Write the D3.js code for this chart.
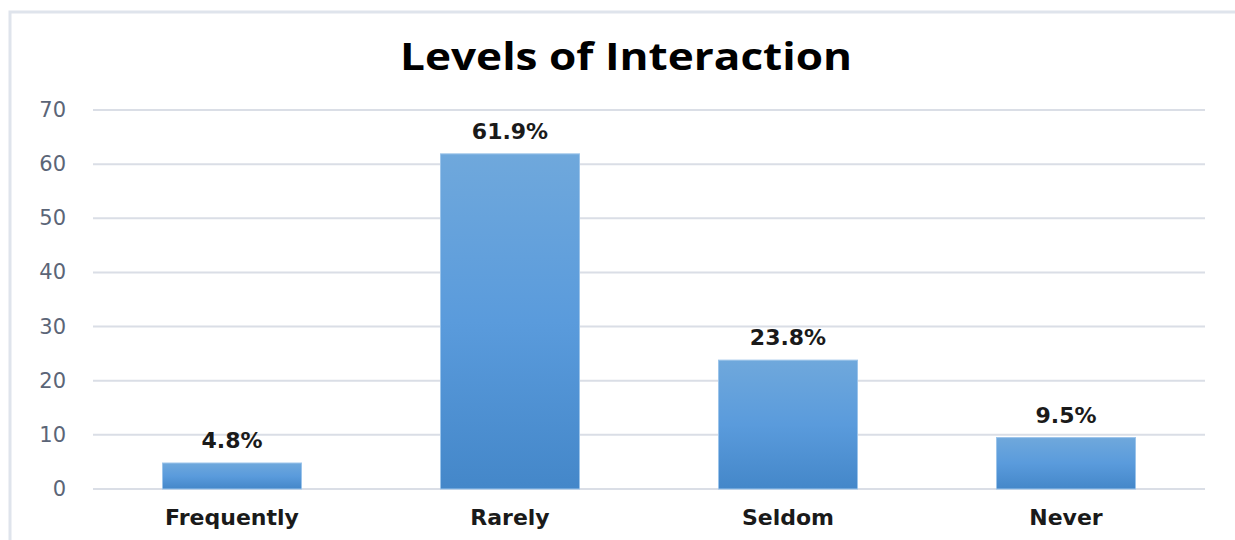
<!DOCTYPE html>
<html>
<head>
<meta charset="utf-8">
<script src="https://cdn.jsdelivr.net/npm/d3@7"></script>
<style>
  body { margin: 0; background: #fff; }
  svg { display: block; }
</style>
</head>
<body>
<svg id="chart"></svg>
<script>
const categories = ['Frequently', 'Rarely', 'Seldom', 'Never'];
const values = [4.8, 61.9, 23.8, 9.5];
const labels = ['4.8%', '61.9%', '23.8%', '9.5%'];
const yTicks = [0, 10, 20, 30, 40, 50, 60, 70];

const width = 1235;
const height = 540;
const plotLeft = 93, plotRight = 1205, plotTop = 110, plotBottom = 489;

const svg = d3.select('#chart')
    .attr('width', width)
    .attr('height', height);

// chart frame (only top/left edge visible in the crop)
svg.append('path')
    .attr('d', `M10,${height} L10,12 L${width},12`)
    .attr('fill', 'none')
    .attr('stroke', '#dfe4ec')
    .attr('stroke-width', 3);

const x = d3.scaleBand().domain(categories).range([plotLeft, plotRight])
    .paddingInner(0.5).paddingOuter(0.25);
const y = d3.scaleLinear().domain([0, 70]).range([plotBottom, plotTop]);

const defs = svg.append('defs');
const grad = defs.append('linearGradient')
    .attr('id', 'barGrad')
    .attr('x1', 0).attr('y1', 0).attr('x2', 0).attr('y2', 1);
grad.append('stop').attr('offset', '0%').attr('stop-color', '#6fa8dc');
grad.append('stop').attr('offset', '50%').attr('stop-color', '#5a9bdc');
grad.append('stop').attr('offset', '100%').attr('stop-color', '#4487c9');

// gridlines
svg.append('g')
    .selectAll('line')
    .data(yTicks)
    .enter().append('line')
    .attr('x1', plotLeft).attr('x2', plotRight)
    .attr('y1', d => y(d)).attr('y2', d => y(d))
    .attr('stroke', '#dadee6')
    .attr('stroke-width', 2);

// y axis labels
svg.append('g')
    .selectAll('text')
    .data(yTicks)
    .enter().append('text')
    .attr('x', 66)
    .attr('y', d => y(d) + 7)
    .attr('text-anchor', 'end')
    .attr('font-family', 'Verdana, "DejaVu Sans", sans-serif')
    .attr('font-size', 21)
    .attr('fill', '#5b6577')
    .text(d => d);

// bars
const rows = categories.map((c, i) => ({ cat: c, value: values[i], label: labels[i] }));

svg.append('g')
    .selectAll('rect')
    .data(rows)
    .enter().append('rect')
    .attr('x', d => x(d.cat))
    .attr('y', d => y(d.value))
    .attr('width', x.bandwidth())
    .attr('height', d => y(0) - y(d.value))
    .attr('fill', 'url(#barGrad)')
    .attr('stroke', '#9cc4ea')
    .attr('stroke-width', 1);

// value labels
svg.append('g')
    .selectAll('text')
    .data(rows)
    .enter().append('text')
    .attr('x', d => x(d.cat) + x.bandwidth() / 2)
    .attr('y', d => y(d.value) - 15)
    .attr('text-anchor', 'middle')
    .attr('font-family', 'Verdana, "DejaVu Sans", sans-serif')
    .attr('font-weight', 'bold')
    .attr('font-size', 22)
    .attr('fill', '#1a1a1a')
    .text(d => d.label);

// category labels
svg.append('g')
    .selectAll('text')
    .data(rows)
    .enter().append('text')
    .attr('x', d => x(d.cat) + x.bandwidth() / 2)
    .attr('y', 525)
    .attr('text-anchor', 'middle')
    .attr('font-family', 'Verdana, "DejaVu Sans", sans-serif')
    .attr('font-weight', 'bold')
    .attr('font-size', 22)
    .attr('fill', '#1a1a1a')
    .text(d => d.cat);

// title
svg.append('text')
    .attr('x', 626)
    .attr('y', 70)
    .attr('text-anchor', 'middle')
    .attr('font-family', '"Open Sans", "DejaVu Sans", sans-serif')
    .attr('font-weight', 'bold')
    .attr('font-size', 38)
    .attr('textLength', 452)
    .attr('lengthAdjust', 'spacingAndGlyphs')
    .attr('fill', '#000')
    .text('Levels of Interaction');
</script>
</body>
</html>
